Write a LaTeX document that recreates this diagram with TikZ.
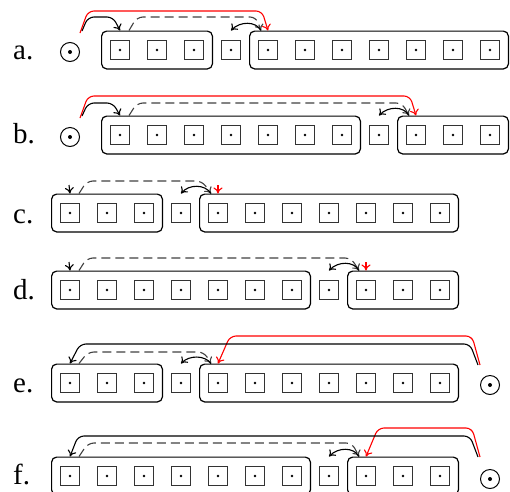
\documentclass[tikz,border=0pt]{standalone}
\usepackage{fontspec}
\setmainfont{Liberation Serif}
\usetikzlibrary{arrows.meta,fit,calc}
\newcommand\mkrow[3]{\foreach \k in {1,...,11}{\node[cellbox] (#1-\k) at ({#2+37*(\k-1)},#3) {};}}
\begin{document}
\begin{tikzpicture}[x=1pt,y=-1pt,
  cellbox/.style={draw=black!80,line width=1.3pt,minimum size=18.5pt,inner sep=0pt,
     path picture={\fill (path picture bounding box.center) circle (1.4pt);}},
  grp/.style={draw,line width=1.2pt,rounded corners=5pt,inner xsep=8.5pt,inner ysep=9pt},
  odot/.style={draw,circle,line width=1pt,minimum size=19pt,inner sep=0pt,
     path picture={\fill (path picture bounding box.center) circle (2pt);}},
  lab/.style={anchor=base west,inner sep=0pt,font=\fontsize{29}{31}\selectfont},
  conn/.style={line width=1.1pt,rounded corners=6pt,-{To[length=6pt,width=9pt]}},
  redc/.style={conn,draw=red},
  blk/.style={conn,draw=black},
  dsh/.style={conn,draw=black!75,dash pattern=on 9pt off 5pt},
  shortarr/.style={line width=1.1pt,-{To[length=6pt,width=9pt]}},
]
\useasboundingbox (0,0) rectangle (510,491);
\clip (0,0) rectangle (510,491);

% ---------- row a ----------
\mkrow{a}{120}{50}
\node[grp,fit=(a-1)(a-3)] (aL) {};
\node[grp,fit=(a-5)(a-11)] (aR) {};
\node[odot] (aO) at (70,52) {};
\node[lab] (aT) at (13,59) {a.};
\coordinate (aRs) at (80,33);
\coordinate (aBs) at (82,31);
\coordinate (aDs) at ($(aL.north west)+(28,0)$);
\coordinate (aDe) at ($(aR.north west)+(12,0)$);
\draw[redc] (aRs) -- (88,11) -- (262,11) -- (a-5 |- aR.north);
\draw[blk] (aBs) -- (88,17) -- (113,17) -- (a-1 |- aL.north);
\draw[dsh] (aDs) -- (137,17) -- (256,17) -- (aDe);
\draw[blk] (aDe) .. controls (256,21) and (240,21) .. (a-4 |- aR.north);

% ---------- row b ----------
\mkrow{b}{120}{135}
\node[grp,fit=(b-1)(b-7)] (bL) {};
\node[grp,fit=(b-9)(b-11)] (bR) {};
\node[odot] (bO) at (70,137) {};
\node[lab] (bT) at (13,143) {b.};
\coordinate (bRs) at (80,118);
\coordinate (bBs) at (82,116);
\coordinate (bDs) at ($(bL.north west)+(28,0)$);
\coordinate (bDe) at ($(bR.north west)+(12,0)$);
\draw[redc] (bRs) -- (88,96) -- (410,96) -- (b-9 |- bR.north);
\draw[blk] (bBs) -- (88,103) -- (113,103) -- (b-1 |- bL.north);
\draw[dsh] (bDs) -- (137,103) -- (402,103) -- (bDe);
\draw[blk] (bDe) .. controls (404,106) and (388,106) .. (b-8 |- bR.north);

% ---------- row c ----------
\mkrow{c}{70}{213}
\node[grp,fit=(c-1)(c-3)] (cL) {};
\node[grp,fit=(c-5)(c-11)] (cR) {};
\node[lab] (cT) at (13,223) {c.};
\coordinate (cBs) at (69,185);
\coordinate (cRs) at (218,185);
\coordinate (cDs) at ($(cL.north west)+(28,0)$);
\coordinate (cDe) at ($(cR.north west)+(12,0)$);
\draw[shortarr] (cBs) -- (c-1 |- cL.north);
\draw[dsh] (cDs) -- (87,181) -- (202,181) -- (cDe);
\draw[blk] (cDe) .. controls (205,184) and (189,184) .. (c-4 |- cR.north);
\draw[shortarr,red] (cRs) -- (c-5 |- cR.north);

% ---------- row d ----------
\mkrow{d}{70}{290}
\node[grp,fit=(d-1)(d-7)] (dL) {};
\node[grp,fit=(d-9)(d-11)] (dR) {};
\node[lab] (dT) at (13,299) {d.};
\coordinate (dBs) at (69,262);
\coordinate (dRs) at (366,262);
\coordinate (dDs) at ($(dL.north west)+(28,0)$);
\coordinate (dDe) at ($(dR.north west)+(12,0)$);
\draw[shortarr] (dBs) -- (d-1 |- dL.north);
\draw[dsh] (dDs) -- (87,258) -- (351,258) -- (dDe);
\draw[blk] (dDe) .. controls (354,261) and (338,261) .. (d-8 |- dR.north);
\draw[shortarr,red] (dRs) -- (d-9 |- dR.north);

% ---------- row e ----------
\mkrow{e}{70}{383}
\node[grp,fit=(e-1)(e-3)] (eL) {};
\node[grp,fit=(e-5)(e-11)] (eR) {};
\node[odot] (eO) at (490,385) {};
\node[lab] (eT) at (13,392) {e.};
\coordinate (eRs) at (480,365);
\coordinate (eBs) at (478,365);
\coordinate (eDs) at ($(eL.north west)+(28,0)$);
\coordinate (eDe) at ($(eR.north west)+(12,0)$);
\draw[redc] (eRs) -- (472,336) -- (230,336) -- (e-5 |- eR.north);
\draw[blk] (eBs) -- (470,344) -- (80,344) -- (e-1 |- eL.north);
\draw[dsh] (eDs) -- (88,352) -- (204,352) -- (eDe);
\draw[blk] (eDe) .. controls (205,355) and (189,355) .. (e-4 |- eR.north);

% ---------- row f ----------
\mkrow{f}{70}{476}
\node[grp,fit=(f-1)(f-7)] (fL) {};
\node[grp,fit=(f-9)(f-11)] (fR) {};
\node[odot] (fO) at (490,479) {};
\node[lab] (fT) at (13,484) {f.};
\coordinate (fRs) at (480,457);
\coordinate (fBs) at (478,457);
\coordinate (fDs) at ($(fL.north west)+(28,0)$);
\coordinate (fDe) at ($(fR.north west)+(12,0)$);
\draw[redc] (fRs) -- (472,428) -- (378,428) -- (f-9 |- fR.north);
\draw[blk] (fBs) -- (470,436) -- (78,436) -- (f-1 |- fL.north);
\draw[dsh] (fDs) -- (88,443) -- (352,443) -- (fDe);
\draw[blk] (fDe) .. controls (354,447) and (338,447) .. (f-8 |- fR.north);
\end{tikzpicture}
\end{document}
